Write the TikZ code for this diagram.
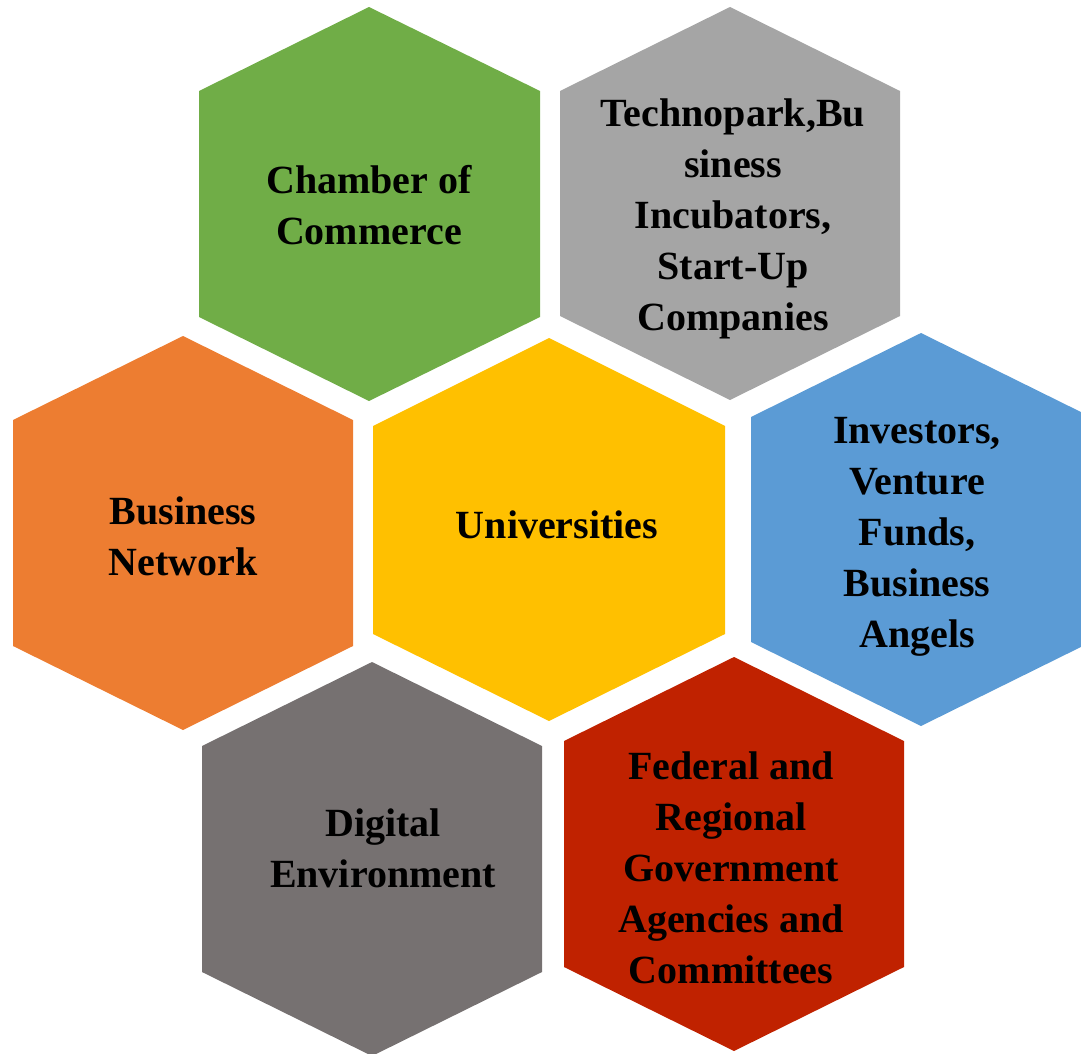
\documentclass[tikz,border=0pt]{standalone}
\usepackage{fontspec}
\setmainfont{Liberation Serif}
\definecolor{hgreen}{HTML}{70AD47}
\definecolor{hgray}{HTML}{A5A5A5}
\definecolor{horange}{HTML}{ED7D31}
\definecolor{hyellow}{HTML}{FFC000}
\definecolor{hblue}{HTML}{5B9BD5}
\definecolor{hdgray}{HTML}{767171}
\definecolor{hred}{HTML}{C02200}
\tikzset{
  lbl/.style={align=center, font=\fontsize{40}{51}\selectfont\bfseries, text=black, inner sep=0pt}
}
\begin{document}
\begin{tikzpicture}[x=1pt,y=-1pt]
\useasboundingbox (0,0) rectangle (1081,1054);
\clip (0,0) rectangle (1081,1054);
\fill[hgreen] (369,7) -- (540,91) -- (540,317) -- (369,401) -- (199,317) -- (199,91) -- cycle;
\fill[hgray] (730,7) -- (900,91) -- (900,316) -- (730,400) -- (560,316) -- (560,91) -- cycle;
\fill[horange] (183,336) -- (353,420) -- (353,646) -- (183,730) -- (13,646) -- (13,420) -- cycle;
\fill[hyellow] (549,338) -- (725,426) -- (725,634) -- (549,721) -- (373,634) -- (373,426) -- cycle;
\fill[hblue] (921,333) -- (1091,417) -- (1091,642) -- (921,726) -- (751,642) -- (751,417) -- cycle;
\fill[hdgray] (372,662) -- (542,746) -- (542,972) -- (372,1056) -- (202,972) -- (202,746) -- cycle;
\fill[hred] (734,657) -- (904,741) -- (904,967) -- (734,1051) -- (564,967) -- (564,741) -- cycle;
\node[lbl] (chamber) at (369,205) {Chamber of\\Commerce};
\node[lbl] (techno) at (733,219) {Technopark,Bu\\siness\\Incubators,\\Start-Up\\Companies};
\node[lbl] (bnet) at (183,536) {Business\\Network};
\node[lbl] (univ) at (557,525) {Universities};
\node[lbl] (invest) at (917,537) {Investors,\\Venture\\Funds,\\Business\\Angels};
\node[lbl] (digital) at (383,848) {Digital\\Environment};
\node[lbl] (federal) at (731,868) {Federal and\\Regional\\Government\\Agencies and\\Committees};
\end{tikzpicture}
\end{document}
